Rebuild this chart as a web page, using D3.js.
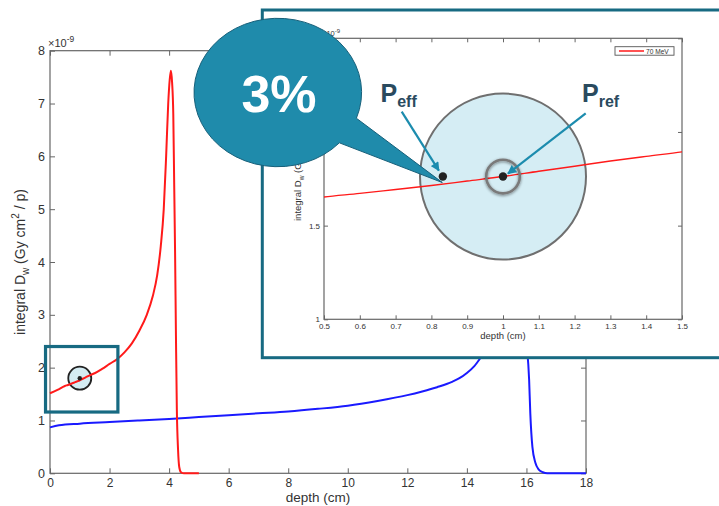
<!DOCTYPE html>
<html>
<head>
<meta charset="utf-8">
<script src="https://cdn.jsdelivr.net/npm/d3@7"></script>
<style>
  body { margin: 0; background: #fff; }
  svg { display: block; font-family: "Liberation Sans", Arial, Helvetica, sans-serif; }
</style>
</head>
<body>
<svg id="chart" width="719" height="506"></svg>
<script>
// Integral depth dose (units of 1e-9 Gy cm^2 / p) for the two proton beams
const redDepth = [0, 0.25, 0.5, 0.6, 0.7, 0.8, 0.9, 1.0, 1.1, 1.2, 1.3, 1.4, 1.5, 1.75, 2.0, 2.25, 2.5, 2.75, 3.0, 3.25, 3.45, 3.6, 3.72, 3.82, 3.9, 3.97, 4.02, 4.06, 4.1, 4.14, 4.17, 4.2, 4.23, 4.26, 4.3, 4.34, 4.4, 4.5, 5.0];
const redDose  = [1.515, 1.58, 1.653, 1.672, 1.693, 1.714, 1.738, 1.762, 1.79, 1.817, 1.845, 1.87, 1.894, 1.975, 2.07, 2.16, 2.29, 2.46, 2.7, 3.0, 3.35, 3.75, 4.3, 5.0, 6.0, 7.0, 7.45, 7.62, 7.4, 6.8, 5.5, 4.2, 2.6, 1.2, 0.45, 0.12, 0.02, 0, 0];

const blueDepth = [0, 0.3, 1, 2, 3, 4, 5, 6, 7, 8, 9, 10, 11, 12, 12.5, 13, 13.5, 13.75, 14, 14.25, 14.5, 15, 15.5, 15.8, 15.9, 16.0, 16.09, 16.13, 16.2, 16.3, 16.4, 16.55, 16.7, 18];
const blueDose  = [0.87, 0.91, 0.94, 0.97, 1.0, 1.03, 1.065, 1.1, 1.135, 1.17, 1.22, 1.28, 1.37, 1.48, 1.55, 1.63, 1.73, 1.8, 1.9, 2.03, 2.22, 2.65, 3.0, 3.3, 3.2, 2.5, 1.77, 1.13, 0.5, 0.2, 0.08, 0.02, 0, 0];

const mainXTicks = [0, 2, 4, 6, 8, 10, 12, 14, 16, 18];
const mainYTicks = [0, 1, 2, 3, 4, 5, 6, 7, 8];
const insetXTicks = [0.5, 0.6, 0.7, 0.8, 0.9, 1, 1.1, 1.2, 1.3, 1.4, 1.5];
const insetYTicks = [1, 1.5, 2, 2.5];
const legendLabel = "70 MeV";
const refDepth = 1.0;      // reference point of the chamber
const effDepth = 0.832;    // effective point of measurement
const deltaLabel = "3%";

const svg = d3.select("#chart");
const axisColor = "#666";
const textColor = "#333";
const teal = "#176a82";
const bubbleColor = "#1f8bab";
const arrowColor = "#1c8cae";

const red = redDepth.map((d, i) => ({ x: d, y: redDose[i] }));
const blue = blueDepth.map((d, i) => ({ x: d, y: blueDose[i] }));

// ---------- main depth-dose plot ----------
const x = d3.scaleLinear().domain([0, 18]).range([50, 586]);
const y = d3.scaleLinear().domain([0, 8]).range([473.3, 50.7]);

const main = svg.append("g");

function styleAxis(g, fs) {
  g.select(".domain").remove();
  g.selectAll(".tick line").attr("stroke", axisColor).attr("stroke-width", 1);
  g.selectAll(".tick text").attr("fill", textColor).attr("font-size", fs)
    .attr("font-family", "'Liberation Sans', Arial, sans-serif");
}

main.append("g").attr("transform", `translate(0,${y(0)})`)
  .call(d3.axisBottom(x).tickValues(mainXTicks).tickSize(-5).tickPadding(5).tickFormat(d3.format("d")))
  .call(g => styleAxis(g, 12));
main.append("g").attr("transform", `translate(0,${y(8)})`)
  .call(d3.axisTop(x).tickValues(mainXTicks).tickSize(-5).tickFormat(""))
  .call(g => styleAxis(g, 12));
main.append("g").attr("transform", `translate(${x(0)},0)`)
  .call(d3.axisLeft(y).tickValues(mainYTicks).tickSize(-5).tickPadding(5).tickFormat(d3.format("d")))
  .call(g => styleAxis(g, 12.5));
main.append("g").attr("transform", `translate(${x(18)},0)`)
  .call(d3.axisRight(y).tickValues(mainYTicks).tickSize(-5).tickFormat(""))
  .call(g => styleAxis(g, 12));

main.append("rect")
  .attr("x", x(0)).attr("y", y(8))
  .attr("width", x(18) - x(0)).attr("height", y(0) - y(8))
  .attr("fill", "none").attr("stroke", axisColor).attr("stroke-width", 1.2);

const exp1 = main.append("text").attr("x", 48).attr("y", 46.5)
  .attr("fill", textColor).attr("font-size", 11);
exp1.append("tspan").text("\u00d710");
exp1.append("tspan").attr("dy", -5).attr("font-size", 8.5).text("-9");

main.append("text")
  .attr("x", (x(0) + x(18)) / 2).attr("y", 502)
  .attr("text-anchor", "middle").attr("fill", textColor).attr("font-size", 13.5)
  .text("depth (cm)");

const yl = main.append("text")
  .attr("transform", `translate(25,${(y(0) + y(8)) / 2}) rotate(-90)`)
  .attr("text-anchor", "middle").attr("fill", textColor).attr("font-size", 14);
yl.append("tspan").text("integral D");
yl.append("tspan").attr("dy", 4).attr("font-size", 10).text("w");
yl.append("tspan").attr("dy", -4).text(" (Gy cm");
yl.append("tspan").attr("dy", -6).attr("font-size", 10).text("2");
yl.append("tspan").attr("dy", 6).text(" / p)");

const mainLine = d3.line().x(d => x(d.x)).y(d => y(d.y)).curve(d3.curveMonotoneX);

// small marker circle around the reference point
const refMain = { x: refDepth, y: redDose[redDepth.indexOf(refDepth)] };
main.append("circle").attr("cx", x(refMain.x)).attr("cy", y(refMain.y) - 2).attr("r", 11.5)
  .attr("fill", "#d4ecf3").attr("stroke", "#222").attr("stroke-width", 1.8);

main.append("path").datum(blue).attr("d", mainLine)
  .attr("fill", "none").attr("stroke", "#1a1aff").attr("stroke-width", 2);
main.append("path").datum(red).attr("d", mainLine)
  .attr("fill", "none").attr("stroke", "#ff1a1a").attr("stroke-width", 2);

main.append("circle").attr("cx", x(refMain.x)).attr("cy", y(refMain.y) - 2).attr("r", 2.2).attr("fill", "#222");

// zoom box around the entrance region
main.append("rect")
  .attr("x", x(-0.15)).attr("y", y(2.4))
  .attr("width", x(2.28) - x(-0.15)).attr("height", y(1.16) - y(2.4))
  .attr("fill", "none").attr("stroke", teal).attr("stroke-width", 3.2);

// ---------- inset: zoom on the entrance region ----------
const inset = svg.append("g");
inset.append("rect").attr("x", 262.3).attr("y", 10).attr("width", 520).attr("height", 347.7)
  .attr("fill", "#fff").attr("stroke", teal).attr("stroke-width", 3);

const ix = d3.scaleLinear().domain([0.5, 1.5]).range([324, 682]);
const iy = d3.scaleLinear().domain([1, 2.5]).range([319.3, 38.3]);

inset.append("g").attr("transform", `translate(0,${iy(1)})`)
  .call(d3.axisBottom(ix).tickValues(insetXTicks).tickSize(-4).tickPadding(4).tickFormat(d3.format("~g")))
  .call(g => styleAxis(g, 8));
inset.append("g").attr("transform", `translate(0,${iy(2.5)})`)
  .call(d3.axisTop(ix).tickValues(insetXTicks).tickSize(-4).tickFormat(""))
  .call(g => styleAxis(g, 8));
inset.append("g").attr("transform", `translate(${ix(0.5)},0)`)
  .call(d3.axisLeft(iy).tickValues(insetYTicks).tickSize(-4).tickPadding(4).tickFormat(d3.format("~g")))
  .call(g => styleAxis(g, 8));
inset.append("g").attr("transform", `translate(${ix(1.5)},0)`)
  .call(d3.axisRight(iy).tickValues(insetYTicks).tickSize(-4).tickFormat(""))
  .call(g => styleAxis(g, 8));
inset.append("rect")
  .attr("x", ix(0.5)).attr("y", iy(2.5))
  .attr("width", ix(1.5) - ix(0.5)).attr("height", iy(1) - iy(2.5))
  .attr("fill", "none").attr("stroke", axisColor).attr("stroke-width", 1.2);

const exp2 = inset.append("text").attr("x", 322).attr("y", 36)
  .attr("fill", textColor).attr("font-size", 7.5);
exp2.append("tspan").text("\u00d710");
exp2.append("tspan").attr("dy", -3.5).attr("font-size", 6).text("-9");

inset.append("text")
  .attr("x", (ix(0.5) + ix(1.5)) / 2).attr("y", 339)
  .attr("text-anchor", "middle").attr("fill", textColor).attr("font-size", 9.5)
  .text("depth (cm)");

const iyl = inset.append("text")
  .attr("transform", "translate(301,221) rotate(-90)")
  .attr("text-anchor", "start").attr("fill", textColor).attr("font-size", 9.5);
iyl.append("tspan").text("integral D");
iyl.append("tspan").attr("dy", 3).attr("font-size", 6.5).text("w");
iyl.append("tspan").attr("dy", -3).text(" (Gy cm");
iyl.append("tspan").attr("dy", -4).attr("font-size", 6.5).text("2");
iyl.append("tspan").attr("dy", 4).text(" / p)");

// legend
inset.append("rect").attr("x", 615).attr("y", 46.7).attr("width", 59).attr("height", 8.5)
  .attr("fill", "#fff").attr("stroke", "#555").attr("stroke-width", 0.9);
inset.append("line").attr("x1", 619).attr("x2", 644).attr("y1", 51).attr("y2", 51)
  .attr("stroke", "#ff1a1a").attr("stroke-width", 1.5);
inset.append("text").attr("x", 646).attr("y", 53.6).attr("font-size", 6.6).attr("fill", textColor)
  .text(legendLabel);

// chamber cross-section drawn around the reference point
const refY = redDose[redDepth.indexOf(refDepth)];
const pRef = [ix(refDepth), iy(refY)];
const pEff = [ix(effDepth), iy(refY)];

inset.append("circle").attr("cx", pRef[0]).attr("cy", pRef[1]).attr("r", 83)
  .attr("fill", "#d5edf4").attr("stroke", "#6f6f6f").attr("stroke-width", 2);

const clipId = "insetClip";
svg.append("defs").append("clipPath").attr("id", clipId).append("rect")
  .attr("x", ix(0.5)).attr("y", iy(2.5)).attr("width", ix(1.5) - ix(0.5)).attr("height", iy(1) - iy(2.5));

const insetLine = d3.line().x(d => ix(d.x)).y(d => iy(d.y)).curve(d3.curveMonotoneX);
inset.append("path").datum(red.filter(d => d.x >= 0.25 && d.x <= 1.75))
  .attr("clip-path", `url(#${clipId})`)
  .attr("d", insetLine).attr("fill", "none").attr("stroke", "#ff1a1a").attr("stroke-width", 1.4);

const defs = svg.select("defs");
const blur = defs.append("filter").attr("id", "ringShadow").attr("x", "-50%").attr("y", "-50%").attr("width", "200%").attr("height", "200%");
blur.append("feGaussianBlur").attr("in", "SourceAlpha").attr("stdDeviation", 1.6).attr("result", "b");
blur.append("feOffset").attr("in", "b").attr("dy", 1).attr("result", "o");
blur.append("feComponentTransfer").attr("in", "o").attr("result", "s")
  .append("feFuncA").attr("type", "linear").attr("slope", 0.5);
const mrg = blur.append("feMerge");
mrg.append("feMergeNode").attr("in", "s");
mrg.append("feMergeNode").attr("in", "SourceGraphic");

inset.append("circle").attr("cx", pRef[0]).attr("cy", pRef[1]).attr("r", 16.8)
  .attr("fill", "none").attr("stroke", "#7a7a7a").attr("stroke-width", 2.6)
  .attr("filter", "url(#ringShadow)");

inset.append("circle").attr("cx", pRef[0]).attr("cy", pRef[1]).attr("r", 4.2).attr("fill", "#222");
inset.append("circle").attr("cx", pEff[0]).attr("cy", pEff[1]).attr("r", 4.2).attr("fill", "#222");

// arrows pointing at the two points
defs.append("marker").attr("id", "arrowHead")
  .attr("viewBox", "0 0 10 10").attr("refX", 9).attr("refY", 5)
  .attr("markerWidth", 10).attr("markerHeight", 9).attr("markerUnits", "userSpaceOnUse")
  .attr("orient", "auto")
  .append("path").attr("d", "M0,0 L10,5 L0,10 Z").attr("fill", arrowColor);

inset.append("line").attr("x1", 401.7).attr("y1", 111.7).attr("x2", pEff[0] - 4).attr("y2", pEff[1] - 6)
  .attr("stroke", arrowColor).attr("stroke-width", 2.2).attr("marker-end", "url(#arrowHead)");
inset.append("line").attr("x1", 585.7).attr("y1", 113.3).attr("x2", pRef[0] + 5).attr("y2", pRef[1] - 3)
  .attr("stroke", arrowColor).attr("stroke-width", 2.2).attr("marker-end", "url(#arrowHead)");

function pointLabel(xp, sub) {
  const t = inset.append("text").attr("x", xp).attr("y", 101.7)
    .attr("fill", "#2a4a5e").attr("font-weight", "bold").attr("font-size", 25);
  t.append("tspan").text("P");
  t.append("tspan").attr("dy", 5.5).attr("font-size", 16).text(sub);
}
pointLabel(380.5, "eff");
pointLabel(582, "ref");

// ---------- callout bubble ----------
const bx = 277.8, by = 92.5, brx = 83.8, bry = 74.2;
const ang1 = 20.3 * Math.PI / 180, ang2 = 42.7 * Math.PI / 180;
const e1 = [bx + brx * Math.cos(ang1), by + bry * Math.sin(ang1)];
const e2 = [bx + brx * Math.cos(ang2), by + bry * Math.sin(ang2)];
const tip = [pEff[0] - 0.5, pEff[1] + 6];
svg.append("path")
  .attr("d", `M${e1[0]},${e1[1]} A${brx},${bry} 0 1 0 ${e2[0]},${e2[1]} L${tip[0]},${tip[1]} Z`)
  .attr("fill", bubbleColor).attr("stroke", "#17607a").attr("stroke-width", 1);

svg.append("text").attr("x", 279).attr("y", 111.7).attr("text-anchor", "middle")
  .attr("fill", "#fff").attr("font-weight", "bold").attr("font-size", 52)
  .text(deltaLabel);
</script>
</body>
</html>
